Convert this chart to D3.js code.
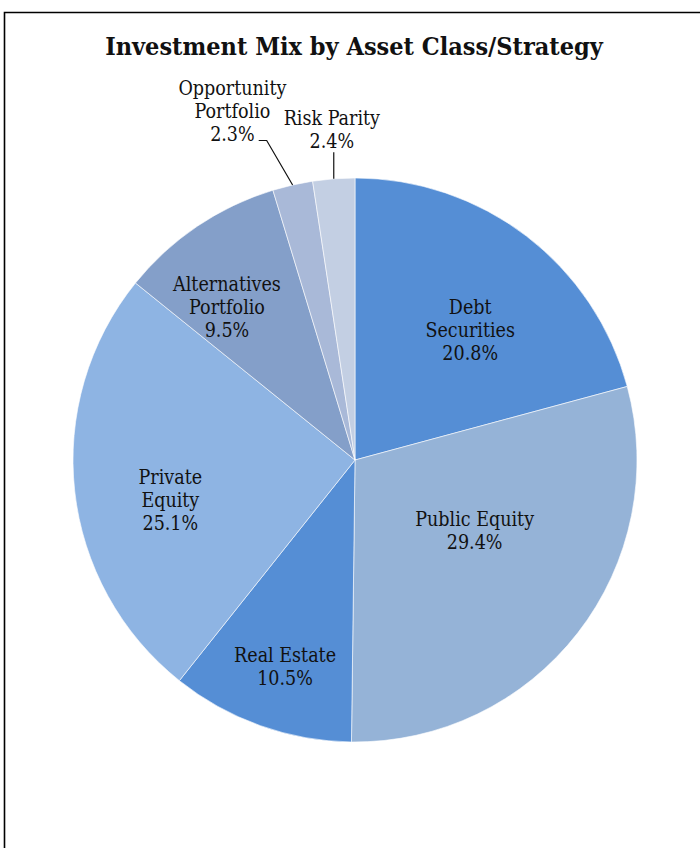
<!DOCTYPE html>
<html lang="en">

<head>
  <meta charset="UTF-8">
  <script src="https://d3js.org/d3.v7.min.js"></script>
  <title>Investment Mix</title>
  <style>
    body {
      margin: 0;
      padding: 0;
      background-color: #fff;
    }

    text {
      font-family: "DejaVu Serif Condensed", "DejaVu Serif", serif;
      fill: #111;
    }

    .title {
      font-size: 25px;
      font-weight: bold;
    }

    .lbl {
      font-size: 19.5px;
    }
  </style>
</head>

<body>
  <div id="chart"></div>

  <script>
    // data, clockwise from 12 o'clock
    let categories = ["Debt\nSecurities", "Public Equity", "Real Estate", "Private\nEquity",
      "Alternatives\nPortfolio", "Opportunity\nPortfolio", "Risk Parity"]
    let shares = [20.8, 29.4, 10.5, 25.1, 9.5, 2.3, 2.4]
    let colors = ["#558ed5", "#95b3d7", "#558ed5", "#8eb4e3", "#849fc9", "#a9b9d8", "#c3cfe3"]

    // label placement (fraction of radius, angle nudge in degrees), Excel "best fit" style
    let labelR = [0.616, 0.493, 0.773, 0.67, 0.706, 1.31, 1.174]
    let labelNudge = [4.1, -7.2, -0.9, -5.9, -6, -6.6, 0.3]

    let width = 700,
      height = 848
    let cx = 355, cy = 460, r = 282

    let svg = d3.select("#chart").append("svg")
      .attr("width", width)
      .attr("height", height)

    // frame
    svg.append("path")
      .attr("d", "M4.5," + (height + 5) + "V12.5H" + (width + 5))
      .attr("fill", "none")
      .attr("stroke", "#000")
      .attr("stroke-width", 1.6)

    svg.append("text")
      .attr("class", "title")
      .attr("x", 354)
      .attr("y", 55)
      .attr("text-anchor", "middle")
      .text("Investment Mix by Asset Class/Strategy")

    let pie = d3.pie().sort(null).value(d => d)
    let arcs = pie(shares)
    let arc = d3.arc().innerRadius(0).outerRadius(r)

    let g = svg.append("g").attr("transform", `translate(${cx},${cy})`)

    g.selectAll("path.slice").data(arcs)
      .enter().append("path")
      .attr("class", "slice")
      .attr("d", arc)
      .attr("fill", (d, i) => colors[i])
      .attr("stroke", "#fff")
      .attr("stroke-width", 0.6)

    let fmt = d3.format(".1f")
    let lineH = 23

    arcs.forEach((d, i) => {
      let mid = (d.startAngle + d.endAngle) / 2 + labelNudge[i] * Math.PI / 180
      let lx = Math.sin(mid) * r * labelR[i]
      let ly = -Math.cos(mid) * r * labelR[i]
      let lines = categories[i].split("\n").concat([fmt(shares[i]) + "%"])
      let top = ly - (lines.length - 1) * lineH / 2
      let t = g.append("text")
        .attr("class", "lbl")
        .attr("text-anchor", "middle")
      lines.forEach((s, j) => {
        t.append("tspan")
          .attr("x", lx)
          .attr("y", top + j * lineH)
          .attr("dy", "0.35em")
          .text(s)
      })

      // leader lines for labels that sit outside the pie
      if (labelR[i] > 1) {
        let emid = (d.startAngle + d.endAngle) / 2
        let ex = Math.sin(emid) * r, ey = -Math.cos(emid) * r
        let lastY = top + (lines.length - 1) * lineH
        let pctW = t.selectAll("tspan").nodes()[lines.length - 1].getComputedTextLength()
        let pts
        if (Math.abs(ex - lx) < 15) {
          pts = [[ex, lastY + 11], [ex, ey]]
        } else {
          let sx = lx + pctW / 2 + 4
          pts = [[sx, lastY + 6], [sx + 8, lastY + 6], [ex, ey]]
        }
        g.append("path")
          .attr("d", d3.line()(pts))
          .attr("fill", "none")
          .attr("stroke", "#111")
          .attr("stroke-width", 1.2)
      }
    })
  </script>
</body>

</html>
